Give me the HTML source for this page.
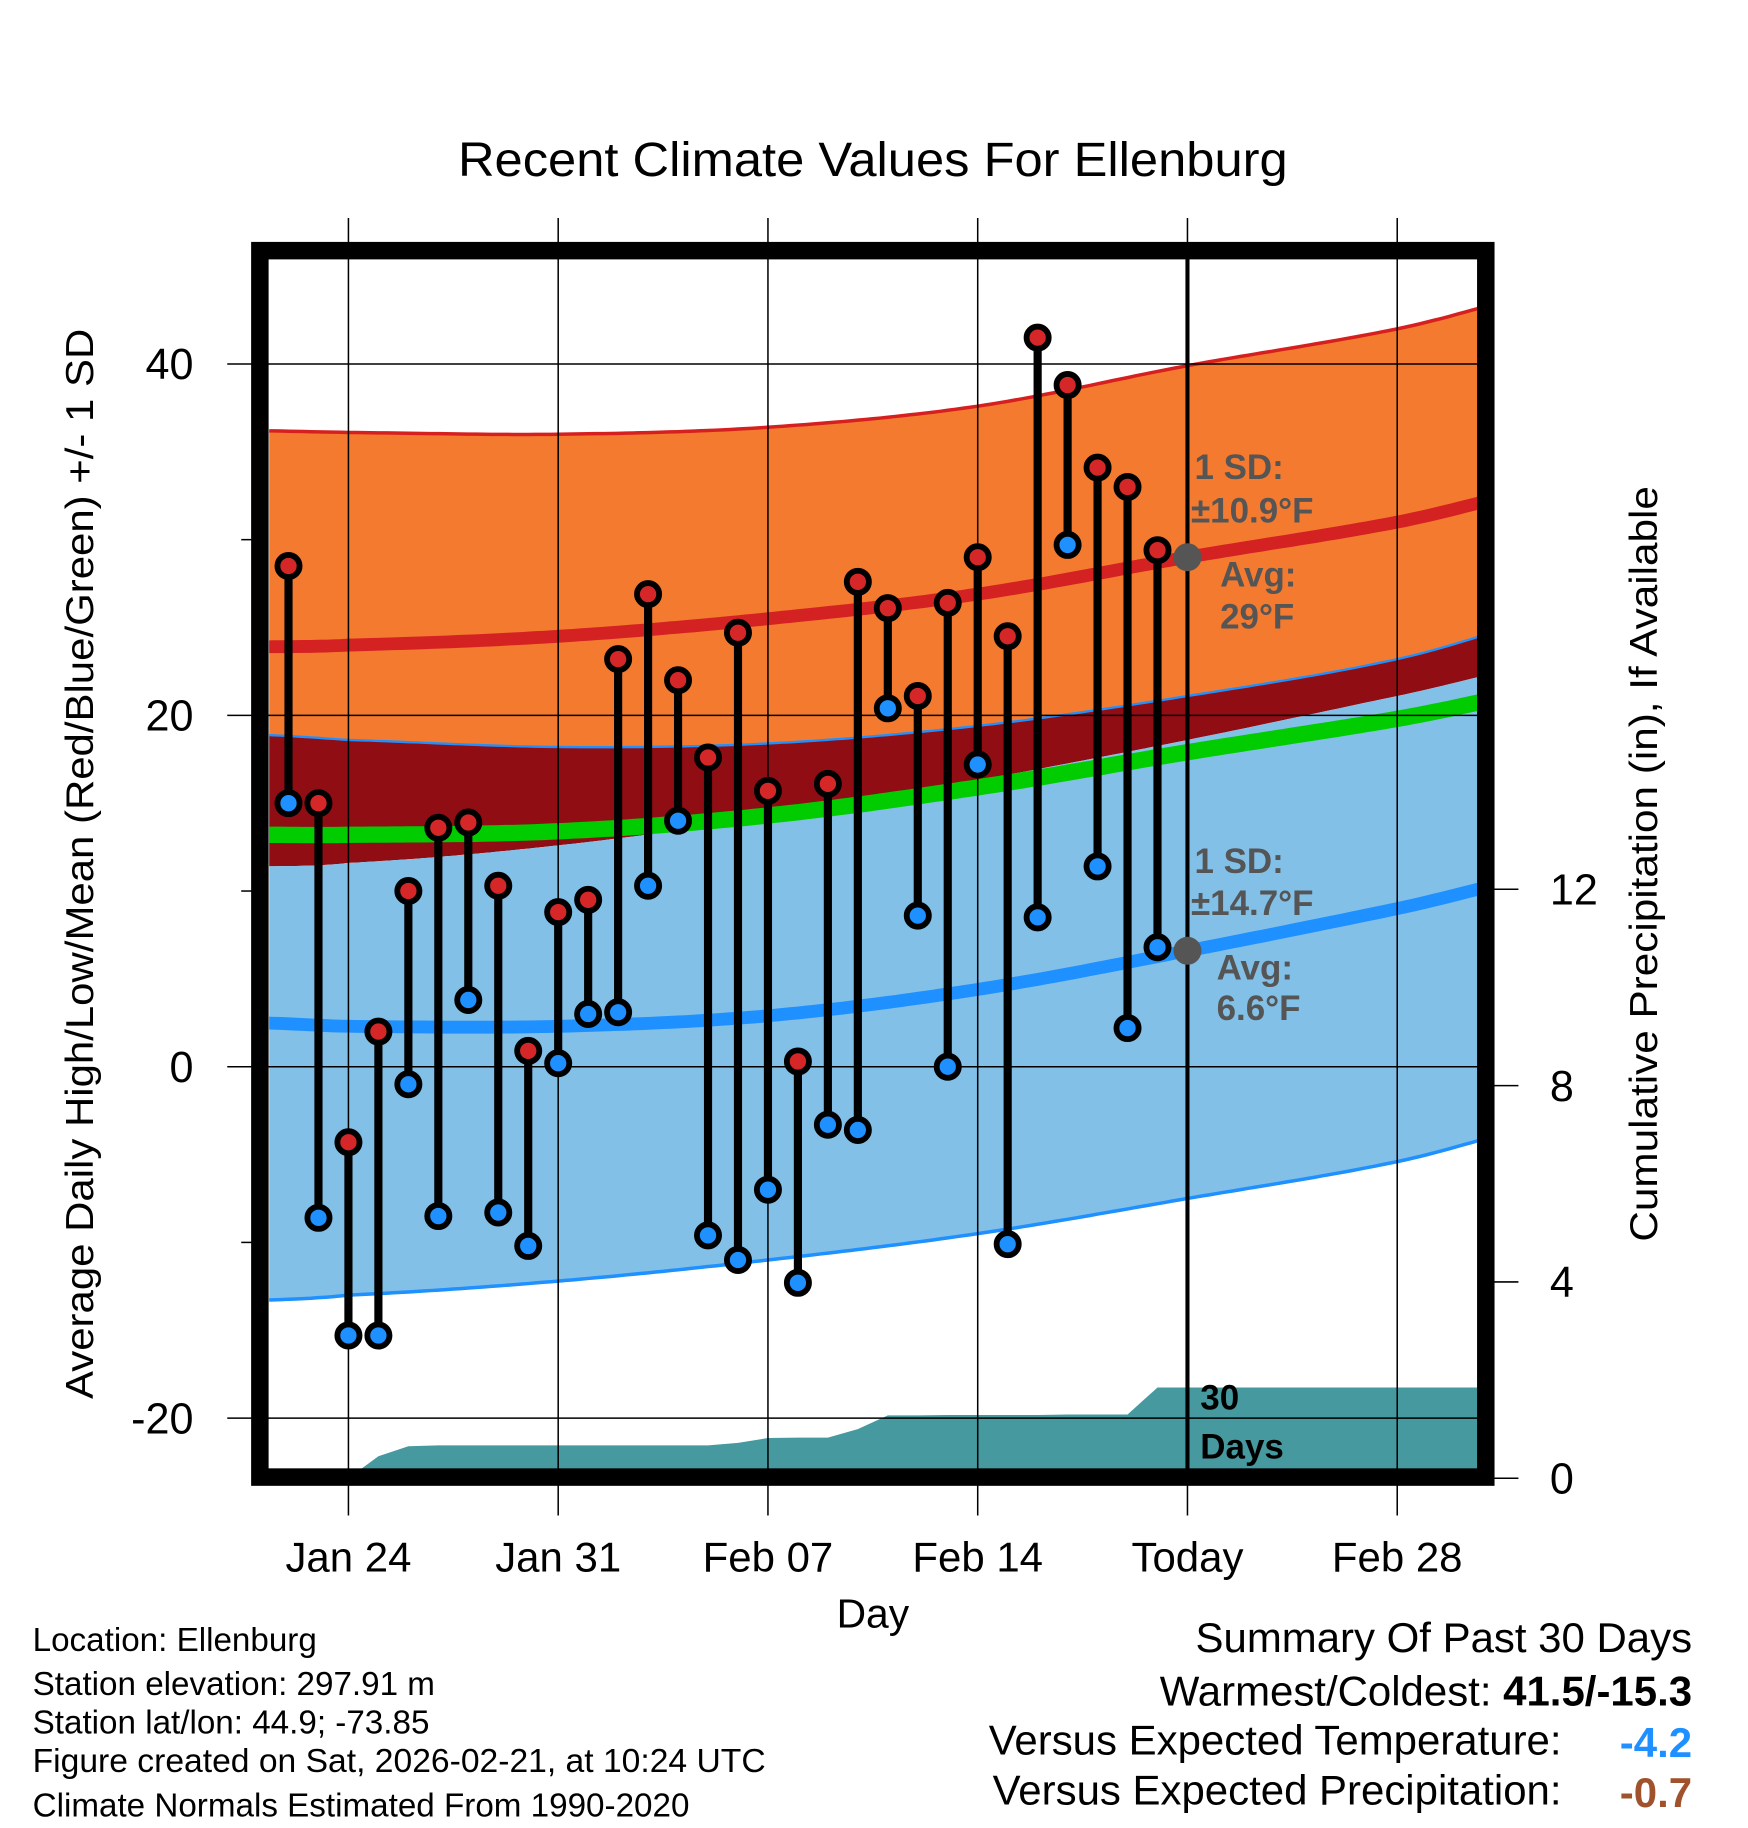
<!DOCTYPE html>
<html><head><meta charset="utf-8"><style>
html,body{margin:0;padding:0;background:#fff}
svg{display:block;font-family:"Liberation Sans",Arial,sans-serif}
</style></head><body>
<svg id="chart" width="1748" height="1828" viewBox="0 0 1500 1568" preserveAspectRatio="none" xmlns="http://www.w3.org/2000/svg">
<defs><clipPath id="inner"><rect x="231" y="222" width="1037" height="1038"/></clipPath></defs>
<rect width="1500" height="1568" fill="#fff"/>
<text x="393" y="151" font-size="41" textLength="712" lengthAdjust="spacingAndGlyphs">Recent Climate Values For Ellenburg</text>
<g id="bands" clip-path="url(#inner)"></g>
<g id="grid"></g>
<g id="marks" clip-path="url(#inner)"></g>
<g id="annot" font-weight="bold" fill="#555" font-size="30">
<text x="1025" y="411">1 SD:</text>
<text x="1022" y="448">±10.9°F</text>
<text x="1047" y="503">Avg:</text>
<text x="1047" y="539">29°F</text>
<text x="1025" y="749">1 SD:</text>
<text x="1022" y="785">±14.7°F</text>
<text x="1044" y="840">Avg:</text>
<text x="1044" y="875">6.6°F</text>
</g>
<text x="1030" y="1209" font-size="30" font-weight="bold">30</text>
<text x="1030" y="1251" font-size="30" font-weight="bold">Days</text>
<rect x="223" y="215" width="1052" height="1052" fill="none" stroke="#000" stroke-width="15"/>
<text transform="translate(80,741) rotate(-90)" font-size="33" text-anchor="middle" textLength="918" lengthAdjust="spacingAndGlyphs">Average Daily High/Low/Mean (Red/Blue/Green) +/- 1 SD</text>
<text transform="translate(1422,741) rotate(-90)" font-size="33" text-anchor="middle" textLength="648" lengthAdjust="spacingAndGlyphs">Cumulative Precipitation (in), If Available</text>
<text x="749" y="1396" font-size="35" text-anchor="middle">Day</text>
<g font-size="28.5">
<text x="28" y="1416">Location: Ellenburg</text>
<text x="28" y="1454">Station elevation: 297.91 m</text>
<text x="28" y="1487">Station lat/lon: 44.9; -73.85</text>
<text x="28" y="1520" textLength="629" lengthAdjust="spacingAndGlyphs">Figure created on Sat, 2026-02-21, at 10:24 UTC</text>
<text x="28" y="1558">Climate Normals Estimated From 1990-2020</text>
</g>
<g font-size="36">
<text x="1452" y="1417" text-anchor="end">Summary Of Past 30 Days</text>
<text x="1452" y="1463" text-anchor="end">Warmest/Coldest: <tspan font-weight="bold">41.5/-15.3</tspan></text>
<text x="1340" y="1505" text-anchor="end">Versus Expected Temperature:</text>
<text x="1452" y="1507" text-anchor="end" font-weight="bold" fill="#1e90ff">-4.2</text>
<text x="1340" y="1548" text-anchor="end">Versus Expected Precipitation:</text>
<text x="1452" y="1550" text-anchor="end" font-weight="bold" fill="#a0522d">-0.7</text>
</g>
</svg>
<script>
// data
const normDays = [-3,0,7,14,21,28,35,42];
const highMean = [23.9,24.0,24.5,25.5,26.9,29.0,31.0,33.6];
const highUp   = [36.2,36.1,36.0,36.4,37.6,39.9,42.0,44.8];
const highLo   = [18.9,18.6,18.2,18.4,19.4,21.1,23.2,26.3];
const lowMean  = [2.5,2.3,2.3,2.9,4.4,6.6,9.0,11.6];
const lowUp    = [11.4,11.6,12.6,14.2,16.3,18.6,21.1,23.6];
const lowDn    = [-13.3,-13.0,-12.2,-11.0,-9.5,-7.5,-5.4,-2.5];
const meanLine = [13.2,13.2,13.4,14.3,15.9,17.9,19.8,22.0];
const obsDays  = [-2,-1,0,1,2,3,4,5,6,7,8,9,10,11,12,13,14,15,16,17,18,19,20,21,22,23,24,25,26,27];
const highs = [28.5,15,-4.3,2,10,13.6,13.9,10.3,0.9,8.8,9.5,23.2,26.9,22,17.6,24.7,15.7,0.3,16.1,27.6,26.1,21.1,26.4,29,24.5,41.5,38.8,34.1,33,29.4];
const lows  = [15,-8.6,-15.3,-15.3,-1,-8.5,3.8,-8.3,-10.2,0.2,3,3.1,10.3,14,-9.6,-11,-7,-12.3,-3.3,-3.6,20.4,8.6,0,17.2,-10.1,8.5,29.7,11.4,2.2,6.8];
const precip = [0,0,0,0.45,0.65,0.67,0.67,0.67,0.67,0.67,0.67,0.67,0.67,0.67,0.67,0.72,0.82,0.83,0.83,1.0,1.28,1.28,1.29,1.29,1.29,1.29,1.3,1.3,1.3,1.85];
const weekDays = [0,7,14,21,28,35];
const weekLabels = ["Jan 24","Jan 31","Feb 07","Feb 14","Today","Feb 28"];
const yTicks = [40,20,0,-20];
const yMinor = [30,10,-10];
const pTicks = [0,4,8,12];
const todayDay = 28;
const todayHighAvg = 29, todayLowAvg = 6.6;

const NS='http://www.w3.org/2000/svg';
const X = d => 299 + d*25.714;
const Y = v => 915 - v*15.07;
const P = p => 1268 - p*42.1;
function mk(tag, attrs, parent){const e=document.createElementNS(NS,tag);for(const k in attrs)e.setAttribute(k,attrs[k]);parent.appendChild(e);return e;}
function interp(vals, d){
  let i=0; while(i<normDays.length-2 && d>normDays[i+1]) i++;
  const p0=vals[Math.max(0,i-1)],p1=vals[i],p2=vals[i+1],p3=vals[Math.min(vals.length-1,i+2)];
  const t=(d-normDays[i])/(normDays[i+1]-normDays[i]);
  return 0.5*((2*p1)+(-p0+p2)*t+(2*p0-5*p1+4*p2-p3)*t*t+(-p0+3*p1-3*p2+p3)*t*t*t);
}
function pts(vals){const a=[];for(let d=-3;d<=38.01;d+=0.25)a.push([X(d),Y(interp(vals,d))]);return a;}
function line(a){return a.map((p,i)=>(i?'L':'M')+p[0].toFixed(1)+','+p[1].toFixed(1)).join('');}
function band(top,bot){const a=pts(top),b=pts(bot).reverse();return line(a)+line(b).replace('M','L')+'Z';}

const bands=document.getElementById('bands');
let e;
e=mk('path',{d:band(highLo,lowUp),fill:'#910d14'},bands);


e=mk('path',{d:band(highUp,highLo),fill:'#f47a30'},bands);


e=mk('path',{d:band(lowUp,lowDn),fill:'#82c0e7'},bands);


e=mk('path',{d:line(pts(highUp)),fill:'none',stroke:'#d62020','stroke-width':3},bands);


e=mk('path',{d:line(pts(highLo)),fill:'none',stroke:'#1e90ff','stroke-width':2},bands);


e=mk('path',{d:line(pts(lowDn)),fill:'none',stroke:'#1e90ff','stroke-width':3},bands);


e=mk('path',{d:line(pts(meanLine)),fill:'none',stroke:'#00cc00','stroke-width':14},bands);


e=mk('path',{d:line(pts(highMean)),fill:'none',stroke:'#d42222','stroke-width':11},bands);


e=mk('path',{d:line(pts(lowMean)),fill:'none',stroke:'#1e90ff','stroke-width':11},bands);


// precip
let pd='M'+X(obsDays[0])+','+P(0);
precip.forEach((p,i)=>{pd+='L'+X(obsDays[i]).toFixed(1)+','+P(p).toFixed(1);});
pd+='L1270,'+P(precip[precip.length-1]).toFixed(1)+'L1270,1270Z';
e=mk('path',{d:pd,fill:'#45999f'},bands);



// grid
const grid=document.getElementById('grid');
weekDays.forEach((d,i)=>{
  e=mk('line',{x1:X(d),x2:X(d),y1:187,y2:1300,stroke:'#000','stroke-width':1.3},grid);
  
  
  e=mk('text',{x:X(d),y:1348,'font-size':36,'text-anchor':'middle'},grid);
  e.textContent=weekLabels[i];
  
  
});
yTicks.forEach(v=>{
  e=mk('line',{x1:195,x2:1268,y1:Y(v),y2:Y(v),stroke:'#000','stroke-width':1.3},grid);
  
  
  e=mk('text',{x:166,y:Y(v)+13,'font-size':37,'text-anchor':'end'},grid);
  e.textContent=v;
  
  
});
yMinor.forEach(v=>{
  e=mk('line',{x1:207,x2:216,y1:Y(v),y2:Y(v),stroke:'#000','stroke-width':1.3},grid);
  
  
});
pTicks.forEach(p=>{
  e=mk('line',{x1:1282,x2:1303,y1:P(p),y2:P(p),stroke:'#000','stroke-width':1.3},grid);
  
  
  e=mk('text',{x:1330,y:P(p)+13,'font-size':37},grid);
  e.textContent=p;
  
  
});

// marks
const marks=document.getElementById('marks');
e=mk('line',{x1:X(todayDay),x2:X(todayDay),y1:222,y2:1262,stroke:'#000','stroke-width':3.5},marks);


obsDays.forEach((d,i)=>{
  e=mk('line',{x1:X(d),x2:X(d),y1:Y(highs[i]),y2:Y(lows[i]),stroke:'#000','stroke-width':7},marks);
  
  
});
obsDays.forEach((d,i)=>{
  e=mk('circle',{cx:X(d),cy:Y(highs[i]),r:9.5,fill:'#d62728',stroke:'#000','stroke-width':5},marks);
  
  
  e=mk('circle',{cx:X(d),cy:Y(lows[i]),r:9.5,fill:'#1e90ff',stroke:'#000','stroke-width':5},marks);
  
  
});
e=mk('circle',{cx:X(todayDay),cy:Y(todayHighAvg),r:12,fill:'#555'},marks);


e=mk('circle',{cx:X(todayDay),cy:Y(todayLowAvg),r:12,fill:'#555'},marks);


</script>
</body></html>
